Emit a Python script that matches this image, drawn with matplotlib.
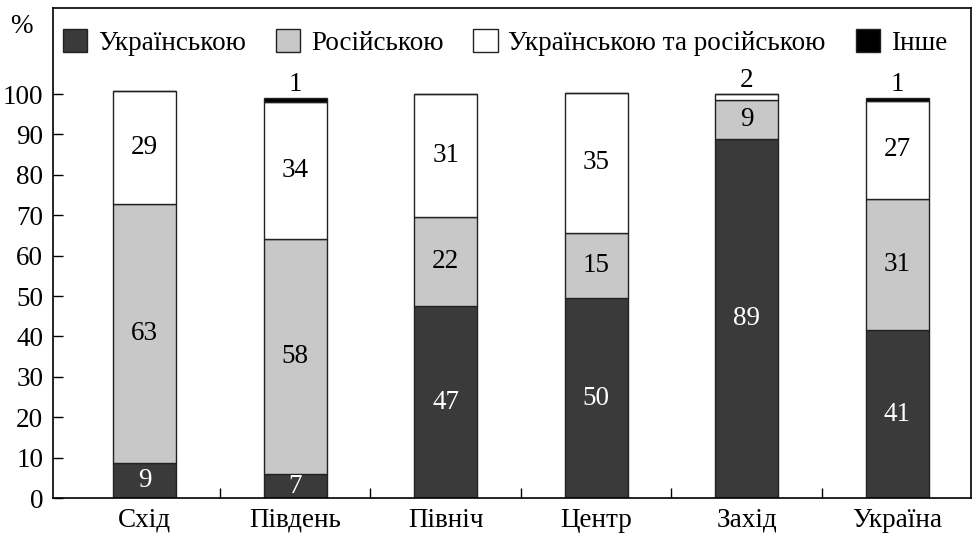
import matplotlib
matplotlib.use("Agg")
import matplotlib.pyplot as plt
import numpy as np
from matplotlib.patches import Patch

plt.rcParams["font.family"] = ["Liberation Serif", "DejaVu Serif"]

regions = ["Схід", "Південь", "Північ", "Центр", "Захід", "Україна"]
series_names = ["Українською", "Російською", "Українською та російською", "Інше"]

# bar heights
ukr = [8.7, 5.9, 47.5, 49.4, 88.8, 41.5]
rus = [64.1, 58.1, 22.1, 16.3, 9.7, 32.5]
both = [28.0, 34.1, 30.4, 34.5, 1.5, 24.3]
other = [0.0, 1.0, 0.0, 0.0, 0.0, 0.7]

# printed labels
ukr_lbl = [9, 7, 47, 50, 89, 41]
rus_lbl = [63, 58, 22, 15, 9, 31]
both_lbl = [29, 34, 31, 35, 2, 27]
other_lbl = [None, 1, None, None, None, 1]

colors = ["#3a3a3a", "#c8c8c8", "white", "black"]
FS = 19.5

fig = plt.figure(figsize=(9.72, 5.37), dpi=100)
ax = fig.add_axes([0.0545, 0.0726, 0.9444, 0.9125])

x = np.arange(len(regions))
w = 0.42
bottom = np.zeros(len(regions))
for vals, c in zip([ukr, rus, both, other], colors):
    ax.bar(x, vals, w, bottom=bottom, color=c, edgecolor="#222222", linewidth=1.0)
    bottom = bottom + np.array(vals)

# labels inside segments
for i in range(len(regions)):
    y0 = 0
    ax.text(x[i], y0 + ukr[i] / 2, str(ukr_lbl[i]), ha="center", va="center",
            color="white", fontsize=FS)
    y0 += ukr[i]
    ax.text(x[i], y0 + rus[i] / 2, str(rus_lbl[i]), ha="center", va="center",
            color="black", fontsize=FS)
    y0 += rus[i]
    if both[i] > 5:
        ax.text(x[i], y0 + both[i] / 2, str(both_lbl[i]), ha="center", va="center",
                color="black", fontsize=FS)
    else:
        ax.text(x[i], y0 + both[i] + 0.2, str(both_lbl[i]), ha="center", va="bottom",
                color="black", fontsize=FS)
    y0 += both[i]
    if other_lbl[i] is not None:
        ax.text(x[i], y0 + other[i] + 0.2, str(other_lbl[i]), ha="center", va="bottom",
                color="black", fontsize=FS)

ax.set_xlim(-0.61, 5.49)
ax.set_ylim(0, 121.3)
ax.set_yticks(range(0, 101, 10))
ax.tick_params(axis="y", direction="in", length=7, width=1, labelsize=FS, pad=7)
ax.set_xticks(x)
ax.set_xticklabels(regions)
ax.tick_params(axis="x", which="major", length=0, labelsize=FS, pad=7)
ax.set_xticks(x[:-1] + 0.5, minor=True)
ax.tick_params(axis="x", which="minor", direction="in", length=7, width=1)
for s in ax.spines.values():
    s.set_linewidth(1.2)

handles = [Patch(facecolor=c, edgecolor="#222222", linewidth=1.0) for c in colors]
ax.legend(handles, series_names, loc="upper left", bbox_to_anchor=(-0.01, 0.995),
          ncol=4, frameon=False, fontsize=FS, handlelength=0.9, handleheight=0.9,
          handletextpad=0.4, columnspacing=1.1, borderaxespad=0.3)

fig.text(0.022, 0.95, "%", fontsize=FS, ha="center", va="center")

fig.savefig("out.png", dpi=100)
